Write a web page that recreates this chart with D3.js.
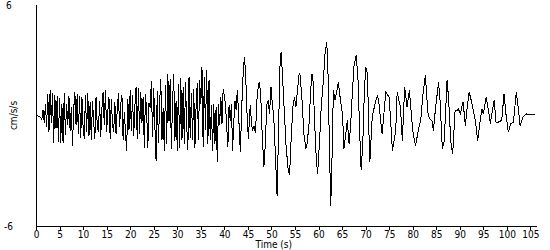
<html lang="en">
<head>
  <meta charset="UTF-8"/>
  <title>Acceleration record</title>
  <script src="https://d3js.org/d3.v7.min.js"></script>
  <style>
    body {
      margin: 0;
      background: #fff;
    }
    svg {
      display: block;
    }
    text {
      font-family: 'DejaVu Sans Condensed', 'DejaVu Sans', sans-serif;
      font-size: 10px;
      fill: #000;
    }
    .axis path, .axis line {
      stroke: #000;
      shape-rendering: crispEdges;
    }
    path.trace {
      fill: none;
      stroke: #000;
      stroke-width: 1;
      shape-rendering: crispEdges;
    }
  </style>
</head>
<body>
  <svg width="550" height="250"></svg>

<script>
  // samples every 0.25 s for the first 40 s
  const dt = 0.25;
  const earlyAccel = [
    0.00, -0.02, -0.04, -0.05, -0.12, -0.20, 0.30, -0.40,
    0.62, -0.60, 1.15, -0.90, 1.40, -0.40, 1.20, -1.50,
    1.10, -0.70, 1.05, -1.45, 0.95, -1.50, 0.60, -1.50,
    1.20, -1.05, 0.65, -0.50, 1.05, -0.85, 0.45, -1.65,
    0.30, 1.30, -0.50, 1.15, -1.00, 1.05, -1.20, 1.00,
    -0.60, -1.25, 1.10, -0.90, 1.20, -1.10, 0.75, -1.35,
    0.80, -0.40, -1.25, 1.00, -0.50, -0.90, 0.80, -1.15,
    0.40, 1.27, -0.50, 1.36, -0.90, 0.20, 1.00, -1.25,
    0.91, -0.50, -0.90, 0.75, -1.00, 0.30, 1.20, -0.65,
    0.60, 1.10, -1.35, 0.20, -0.90, -1.90, 0.90, -0.80,
    1.36, -0.85, 1.10, -1.10, 0.50, 1.55, -1.30, 1.50,
    -1.00, 1.30, -0.40, 1.00, -1.75, 1.15, 0.20, -1.75,
    0.70, 0.40, 1.85, -1.15, 1.50, -0.60, -2.45, 1.35,
    -1.50, 0.60, 2.00, -1.35, 0.40, -1.90, 1.65, -1.55,
    2.27, -0.30, 2.00, -1.80, 0.70, 2.27, -1.40, 0.80,
    -1.90, 1.70, -1.75, 2.05, -1.35, 1.55, -1.55, 1.80,
    -0.50, -1.90, 2.10, -1.20, 1.20, -1.35, 1.45, -1.75,
    0.50, 1.75, -1.35, 1.90, 0.60, 2.64, -1.70, 2.10,
    -0.80, 2.45, -1.55, 1.95, -1.35, 0.55, -1.90, 0.65,
    -1.55, 0.45, -2.55, 0.60, -0.50, 1.00, -0.45, 1.45
  ];

  // [time (s), cm/s/s] after 40 s
  const lateSamples = [
    [40.25, 0.60], [40.50, -0.60], [40.75, -1.70], [41.00, 0.55], [41.25, -0.30],
    [41.50, 0.60], [41.75, -1.90], [42.00, -0.40], [42.25, 0.80], [42.50, 0.30],
    [42.75, 1.36], [43.00, 0.20], [43.40, -2.00], [43.70, 0.50], [44.00, 2.30],
    [44.25, 3.18], [44.50, 2.40], [44.80, 0.20], [45.10, -1.27], [45.50, 0.55],
    [45.80, -0.50], [46.00, -0.82], [46.30, -0.60], [46.60, -0.95], [47.00, 1.20],
    [47.40, 1.80], [47.70, 1.30], [48.00, -0.80], [48.40, -2.82], [48.70, -1.60],
    [49.00, 0.60], [49.30, 0.82], [49.60, 0.10], [49.90, 1.55], [50.20, 0.60],
    [50.50, -0.10], [50.90, -2.50], [51.20, -4.36], [51.50, -1.00], [51.80, 2.60],
    [52.05, 3.45], [52.30, 2.40], [52.70, 0.40], [53.10, -1.60], [53.50, -2.80],
    [53.85, -3.25], [54.20, -1.20], [54.60, 0.60], [54.90, 1.00], [55.20, 0.45],
    [55.50, 1.30], [55.90, 2.30], [56.10, 2.20], [56.50, 0.80], [56.90, -1.00],
    [57.30, -1.80], [57.60, -1.50], [58.00, -0.40], [58.30, 1.20], [58.60, 2.27],
    [58.80, 2.10], [59.10, 0.20], [59.40, -1.80], [59.80, -3.20], [60.20, -1.50],
    [60.60, 0.60], [61.00, 1.80], [61.40, 3.40], [61.75, 4.00], [62.00, 2.50],
    [62.30, -1.50], [62.60, -4.90], [62.90, -2.00], [63.15, 1.36], [63.50, 0.82],
    [63.80, 1.20], [64.20, 1.82], [64.40, 1.40], [64.70, 0.73], [65.10, 0.09],
    [65.40, -1.82], [65.80, -1.00], [66.10, -0.27], [66.50, -1.55], [66.80, -0.64],
    [67.10, 0.80], [67.50, 2.64], [68.00, 3.27], [68.40, 1.91], [68.70, -0.60],
    [69.05, -2.95], [69.40, -1.55], [69.70, 1.00], [70.00, 2.64], [70.40, 2.27],
    [70.60, 0.00], [70.90, -2.55], [71.40, -0.10], [72.00, 0.64], [72.50, 1.09],
    [72.80, 0.73], [73.50, -1.00], [74.30, 1.27], [75.00, 1.00], [75.70, -1.91],
    [76.40, -0.82], [76.70, 1.27], [77.40, 0.45], [77.80, -1.36], [78.30, 1.55],
    [78.80, 0.45], [79.30, 1.36], [80.00, -0.82], [80.60, -1.64], [81.20, -0.80],
    [81.70, -0.27], [82.20, 1.20], [82.70, 2.20], [83.20, 0.18], [83.60, -0.18],
    [84.10, -0.27], [84.40, -0.82], [84.80, 0.27], [85.50, 1.82], [85.80, 0.82],
    [86.30, -1.82], [86.70, -1.36], [87.30, 1.91], [87.60, 1.00], [88.10, -1.45],
    [88.50, -2.09], [89.00, 0.27], [89.40, 0.27], [89.70, 0.36], [90.10, 0.09],
    [90.70, 0.73], [91.20, -0.55], [91.50, 0.27], [92.00, 1.27], [92.60, 0.64],
    [93.30, -0.27], [93.80, -1.36], [94.30, -0.36], [94.70, 0.36], [95.00, 0.09],
    [95.60, 1.00], [96.10, 0.27], [96.50, -0.45], [96.80, 0.09], [97.30, 0.82],
    [97.70, -0.36], [98.20, -0.36], [98.90, -0.27], [99.40, 1.18], [99.80, 0.09],
    [100.30, -0.91], [100.80, -0.45], [101.40, -0.36], [102.00, 1.27], [102.50, 0.27],
    [102.80, -0.55], [103.40, -0.09], [104.20, 0.09], [104.90, 0.05], [106.00, 0.05]
  ];

  const xTicks = d3.range(0, 106, 5);
  const yLimits = [-6, 6];

  const series = earlyAccel.map((v, i) => ({ t: i * dt, v: v }))
    .concat(lateSamples.map((d) => ({ t: d[0], v: d[1] })));

  const svg = d3.select('svg');

  const plotLeft = 36;
  const plotTop = 5;
  const plotBottom = 226;
  const plotRight = 537;

  const xScale = d3.scaleLinear()
    .domain([0, 106.4])
    .range([plotLeft, plotRight]);

  const yScale = d3.scaleLinear()
    .domain(yLimits)
    .range([plotBottom, plotTop]);

  // x axis
  const xAxis = svg.append('g')
    .attr('class', 'axis')
    .attr('transform', `translate(0, ${plotBottom})`)
    .call(d3.axisBottom(xScale)
      .tickValues(xTicks)
      .tickSize(4)
      .tickSizeOuter(0)
      .tickPadding(1)
      .tickFormat(d3.format('d')));

  xAxis.select('.domain').attr('d', `M${plotLeft + 0.5},0.5H${plotRight}`);

  // y axis, just the line
  svg.append('line')
    .attr('x1', plotLeft + 0.5)
    .attr('x2', plotLeft + 0.5)
    .attr('y1', plotTop)
    .attr('y2', plotBottom)
    .attr('stroke', '#000')
    .attr('shape-rendering', 'crispEdges');

  svg.selectAll('text.ylim')
    .data(yLimits)
    .enter()
    .append('text')
    .attr('class', 'ylim')
    .attr('x', (d) => d < 0 ? 4 : 6)
    .attr('y', (d) => yScale(d) + 4)
    .text((d) => `${d}`);

  const line = d3.line()
    .x((d) => xScale(d.t))
    .y((d) => yScale(d.v));

  svg.append('path')
    .datum(series)
    .attr('class', 'trace')
    .attr('d', line);

  svg.append('text')
    .attr('x', -yScale(0))
    .attr('y', 17)
    .attr('transform', 'rotate(-90)')
    .attr('text-anchor', 'middle')
    .text('cm/s/s');

  svg.append('text')
    .attr('x', xScale(50.5))
    .attr('y', 248)
    .attr('text-anchor', 'middle')
    .text('Time (s)');
</script>
</body>
</html>
